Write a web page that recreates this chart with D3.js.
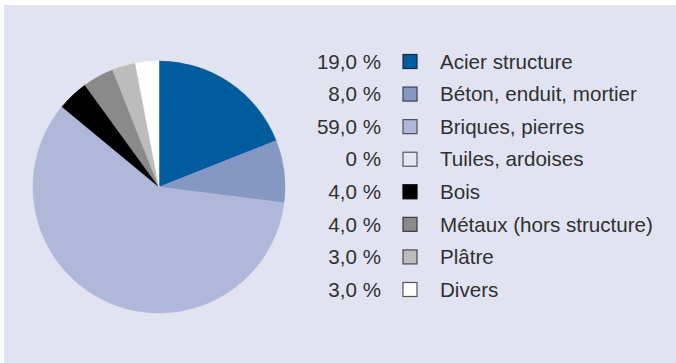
<!DOCTYPE html>
<html>
<head>
<meta charset="utf-8">
<script src="https://cdn.jsdelivr.net/npm/d3@7"></script>
<style>
  html, body { margin: 0; padding: 0; background: #ffffff; }
  svg { display: block; }
</style>
</head>
<body>
<svg id="chart" width="676" height="363"></svg>
<script>
// Material shares (percent) of a building's mass
const categories = [
  "Acier structure",
  "Béton, enduit, mortier",
  "Briques, pierres",
  "Tuiles, ardoises",
  "Bois",
  "Métaux (hors structure)",
  "Plâtre",
  "Divers"
];
const values = [19, 8, 59, 0, 4, 4, 3, 3];
const valueLabels = ["19,0 %", "8,0 %", "59,0 %", "0 %", "4,0 %", "4,0 %", "3,0 %", "3,0 %"];
const fills = ["#005c9c", "#8597c3", "#b0b8da", "#e4e6f1", "#000000", "#8a8a8a", "#bcbcbc", "#ffffff"];
const swatchStrokes = ["#1c2b44", "#3a4150", "#4a4e5a", "#555960", "#000000", "#3a3a3a", "#4a4a4a", "#555555"];

const svg = d3.select("#chart");
const W = 676, H = 363;

// panel background
svg.append("rect")
  .attr("x", 4).attr("y", 5)
  .attr("width", W - 4).attr("height", H - 5)
  .attr("fill", "#e1e4f0");

// pie
const cx = 159, cy = 187, r = 126;
const pie = d3.pie().sort(null).value(d => d.v);
const arc = d3.arc().innerRadius(0).outerRadius(r);
const data = categories.map((c, i) => ({ c, v: values[i], i }));

svg.append("g")
  .attr("transform", `translate(${cx},${cy})`)
  .selectAll("path")
  .data(pie(data).filter(d => d.data.v > 0))
  .join("path")
  .attr("d", arc)
  .attr("fill", d => fills[d.data.i])
  .attr("stroke", d => fills[d.data.i])
  .attr("stroke-width", 0.5);

// legend
const y = d3.scalePoint()
  .domain(categories)
  .range([61.5, 289.5]);

const legend = svg.append("g")
  .style("font-family", "'Liberation Sans', Arial, Helvetica, sans-serif")
  .style("font-size", "20.6px")
  .attr("fill", "#303030");

const rows = legend.selectAll("g.row")
  .data(data)
  .join("g")
  .attr("class", "row")
  .attr("transform", d => `translate(0,${y(d.c)})`);

rows.append("text")
  .attr("x", 381)
  .attr("y", 0)
  .attr("dy", "0.35em")
  .attr("text-anchor", "end")
  .text(d => valueLabels[d.i]);

rows.append("rect")
  .attr("x", 403)
  .attr("y", -7)
  .attr("width", 14)
  .attr("height", 14)
  .attr("fill", d => fills[d.i])
  .attr("stroke", d => swatchStrokes[d.i])
  .attr("stroke-width", 1.2);

rows.append("text")
  .attr("x", 440)
  .attr("y", 0)
  .attr("dy", "0.35em")
  .text(d => d.c);
</script>
</body>
</html>
